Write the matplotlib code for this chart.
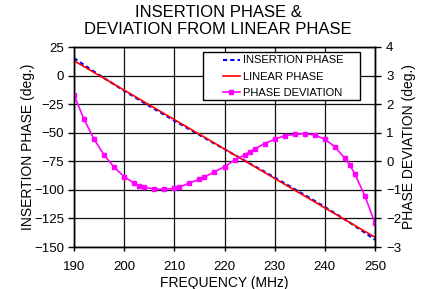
"""Insertion phase and deviation from linear phase vs frequency."""
import matplotlib
matplotlib.use("Agg")
matplotlib.rcParams["font.family"] = "sans-serif"
matplotlib.rcParams["font.sans-serif"] = ["Liberation Sans", "DejaVu Sans"]
import matplotlib.pyplot as plt
from matplotlib.patches import Rectangle

freq = [190, 192, 194, 196, 198, 200, 202, 203, 204, 206, 208, 210, 211,
        213, 215, 216, 218, 220, 222, 224, 225, 226, 228, 230, 232, 234,
        236, 238, 240, 242, 244, 245, 246, 248, 250]
insertion_phase = [15.3, 9.3, 3.5, -2.2, -7.8, -13.3, -18.7, -21.3, -24.0,
                   -29.2, -34.3, -39.5, -42.0, -47.0, -52.0, -54.5, -59.5,
                   -64.4, -69.4, -74.3, -76.8, -79.3, -84.2, -89.2, -94.3,
                   -99.4, -104.5, -109.7, -115.0, -120.4, -126.0, -128.7,
                   -131.7, -137.6, -143.7]
phase_dev = [2.32, 1.47, 0.77, 0.22, -0.21, -0.54, -0.77, -0.85, -0.91,
             -0.97, -0.98, -0.95, -0.91, -0.76, -0.63, -0.55, -0.37, -0.19,
             0.04, 0.22, 0.33, 0.43, 0.62, 0.77, 0.90, 0.94, 0.97, 0.92,
             0.77, 0.51, 0.10, -0.13, -0.45, -1.22, -2.17]
lin_freq = [190, 250]
lin_phase = [13.0, -141.5]

x_ticks = [190, 200, 210, 220, 230, 240, 250]
left_ticks = [25, 0, -25, -50, -75, -100, -125, -150]
right_ticks = [4, 3, 2, 1, 0, -1, -2, -3]

fig = plt.figure(figsize=(4.3, 2.89), dpi=100)
ax = fig.add_axes([74 / 430, 1 - 247 / 289, 301 / 430, 200 / 289])
ax2 = ax.twinx()

h1, = ax.plot(freq, insertion_phase, color="#0000ff", lw=1.5,
              dashes=(2, 1.5), label="INSERTION PHASE", zorder=2)
h2, = ax.plot(lin_freq, lin_phase, color="#ff0000", lw=1.2,
              label="LINEAR PHASE", zorder=3)
h3, = ax2.plot(freq, phase_dev, color="#ff00ff", lw=1.2, marker="s",
               markersize=2.8, label="PHASE DEVIATION")

ax.set_xlim(190, 250)
ax.set_ylim(-150, 25)
ax2.set_ylim(-3, 4)
ax.set_xticks(x_ticks)
ax.set_yticks(left_ticks)
ax2.set_yticks(right_ticks)
ax.grid(True, color="#111111", lw=0.9)
ax.set_axisbelow(True)

for a in (ax, ax2):
    for s in a.spines.values():
        s.set_color("black")
        s.set_linewidth(1)
ax.tick_params(axis="y", direction="out", length=4, width=1, pad=3,
               labelsize=9.5)
ax.tick_params(axis="x", direction="out", length=3, width=1, pad=7,
               labelsize=9.5)
ax2.tick_params(axis="y", direction="out", length=4, width=1, pad=4,
                labelsize=9.5)

ax.set_xlabel("FREQUENCY (MHz)", fontsize=10, va="center")
ax.xaxis.set_label_coords(0.5, -0.18)
ax.set_ylabel("INSERTION PHASE (deg.)", fontsize=10, va="center")
ax.yaxis.set_label_coords(-0.153, 0.5)
ax2.set_ylabel("PHASE DEVIATION (deg.)", fontsize=10, va="center")
ax2.yaxis.set_label_coords(1.113, 0.5)

fig.text(218 / 430, 1 - 5 / 289, "INSERTION PHASE &\nDEVIATION FROM LINEAR PHASE",
         ha="center", va="top", fontsize=12, linespacing=1.15)

# legend box drawn by hand, legend itself frameless
ax2.add_patch(Rectangle((0.4286, 0.735), 0.5216, 0.24, transform=ax2.transAxes,
                        facecolor="white", edgecolor="black", lw=1, zorder=5))
leg = ax2.legend(handles=[h1, h2, h3], loc="upper left",
                 bbox_to_anchor=((223 - 74) / 301, 0.958), frameon=False,
                 fontsize=8, borderpad=0, borderaxespad=0, handlelength=1.5,
                 handletextpad=0.3, labelspacing=0.55)
leg.set_zorder(6)

fig.savefig("out.png", dpi=100)
